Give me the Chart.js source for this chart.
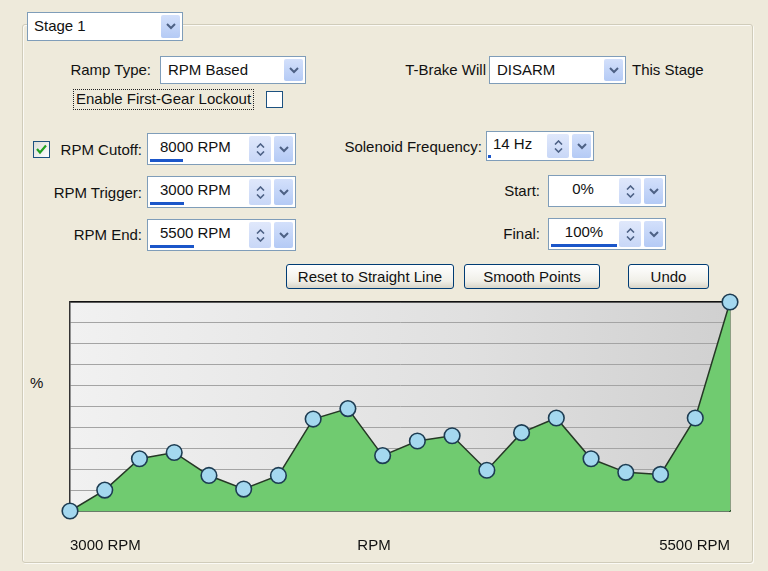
<!DOCTYPE html>
<html>
<head>
<meta charset="utf-8">
<script src="https://cdn.jsdelivr.net/npm/chart.js@4.4.4/dist/chart.umd.min.js"></script>
<style>
  html, body { margin: 0; padding: 0; }
  body {
    width: 768px; height: 571px; position: relative; overflow: hidden;
    background: #eeeadb; color: #111;
    font-family: Tahoma, 'Liberation Sans', Arial, sans-serif; font-size: 15px;
  }
  .group { position: absolute; left: 22px; top: 24px; width: 729px; height: 537px;
    border: 1px solid #d0ccba; border-radius: 3px; box-shadow: inset 1px 1px 0 #fbfaf5, 1px 1px 0 #fbfaf5; }
  .lbl { position: absolute; white-space: nowrap; line-height: 18px; }
  .box { position: absolute; background: #fff; border: 1px solid #7f9db9; box-sizing: border-box; }
  .box .txt { position: absolute; top: 4px; left: 7px; white-space: nowrap; line-height: 18px; }
  .arrow, .spin { position: absolute; top: 2px; bottom: 2px; border-radius: 2px;
    background: linear-gradient(#d3e0fb, #b4caf5); display: flex; align-items: center; justify-content: center; flex-direction: column; }
  .arrow { right: 2px; width: 19px; }
  .spin { width: 22px; gap: 3px; background: linear-gradient(#e0e8fb, #c8d7f7); }
  .bar { position: absolute; bottom: 2px; height: 3px; background: #1b56c9; }
  .chk { position: absolute; width: 15px; height: 15px; border: 1px solid #1c5180; background: linear-gradient(135deg, #dcdcd7, #fff); }
  .btn { position: absolute; height: 25px; box-sizing: border-box; border: 1px solid #003c74; border-radius: 3px;
    background: linear-gradient(#ffffff, #f0efe8 70%, #d9d5c8); text-align: center; line-height: 23px; white-space: nowrap; }
  #chartWrap { position: absolute; left: 0; top: 290px; width: 768px; height: 270px; }
</style>
</head>
<body>
<div class="group"></div>

<div class="box" style="left:27px;top:12px;width:156px;height:29px;border-color:#7f9db9">
  <span class="txt" style="left:6px;top:4px">Stage 1</span>
  <div class="arrow"><svg width="10" height="7"><polyline points="1,1 5,5 9,1" fill="none" stroke="#4d6185" stroke-width="2"/></svg></div>
</div>

<span class="lbl" style="right:617px;top:61px">Ramp Type:</span>
<div class="box" style="left:160px;top:56px;width:146px;height:28px">
  <span class="txt">RPM Based</span>
  <div class="arrow"><svg width="10" height="7"><polyline points="1,1 5,5 9,1" fill="none" stroke="#4d6185" stroke-width="2"/></svg></div>
</div>
<span class="lbl" style="left:73px;top:89px;height:19px;border:1px dotted #222;padding:0 2px">Enable First-Gear Lockout</span>
<div class="chk" style="left:266px;top:91px;background:#fff"></div>

<span class="lbl" style="right:282px;top:61px">T-Brake Will</span>
<div class="box" style="left:489px;top:56px;width:137px;height:28px">
  <span class="txt">DISARM</span>
  <div class="arrow"><svg width="10" height="7"><polyline points="1,1 5,5 9,1" fill="none" stroke="#4d6185" stroke-width="2"/></svg></div>
</div>
<span class="lbl" style="left:632px;top:61px">This Stage</span>

<div class="chk" style="left:33px;top:141px"><svg width="15" height="15" style="position:absolute;left:0;top:0"><polyline points="3,7 6,10.5 12,3.5" fill="none" stroke="#21a121" stroke-width="2.2"/></svg></div>
<span class="lbl" style="right:626px;top:141px">RPM Cutoff:</span>
<div class="box" style="left:147px;top:133px;width:149px;height:32px">
  <span class="txt" style="left:12px">8000 RPM</span>
  <div class="bar" style="left:2px;width:33px"></div>
  <div class="spin" style="right:24px"><svg width="9" height="5"><polyline points="1,4.5 4.5,1 8,4.5" fill="none" stroke="#4d6185" stroke-width="1.6"/></svg><svg width="9" height="5"><polyline points="1,0.5 4.5,4 8,0.5" fill="none" stroke="#4d6185" stroke-width="1.6"/></svg></div>
  <div class="arrow"><svg width="10" height="7"><polyline points="1,1 5,5 9,1" fill="none" stroke="#4d6185" stroke-width="2"/></svg></div>
</div>

<span class="lbl" style="right:286px;top:138px">Solenoid Frequency:</span>
<div class="box" style="left:486px;top:131px;width:108px;height:30px">
  <span class="txt" style="left:6px;top:3px">14 Hz</span>
  <div class="bar" style="left:1px;width:3px"></div>
  <div class="spin" style="right:24px"><svg width="9" height="5"><polyline points="1,4.5 4.5,1 8,4.5" fill="none" stroke="#4d6185" stroke-width="1.6"/></svg><svg width="9" height="5"><polyline points="1,0.5 4.5,4 8,0.5" fill="none" stroke="#4d6185" stroke-width="1.6"/></svg></div>
  <div class="arrow"><svg width="10" height="7"><polyline points="1,1 5,5 9,1" fill="none" stroke="#4d6185" stroke-width="2"/></svg></div>
</div>

<span class="lbl" style="right:626px;top:184px">RPM Trigger:</span>
<div class="box" style="left:147px;top:176px;width:149px;height:32px">
  <span class="txt" style="left:12px">3000 RPM</span>
  <div class="bar" style="left:2px;width:34px"></div>
  <div class="spin" style="right:24px"><svg width="9" height="5"><polyline points="1,4.5 4.5,1 8,4.5" fill="none" stroke="#4d6185" stroke-width="1.6"/></svg><svg width="9" height="5"><polyline points="1,0.5 4.5,4 8,0.5" fill="none" stroke="#4d6185" stroke-width="1.6"/></svg></div>
  <div class="arrow"><svg width="10" height="7"><polyline points="1,1 5,5 9,1" fill="none" stroke="#4d6185" stroke-width="2"/></svg></div>
</div>

<span class="lbl" style="right:228px;top:182px">Start:</span>
<div class="box" style="left:548px;top:175px;width:118px;height:32px">
  <span class="txt" style="left:0;width:68px;text-align:center">0%</span>
  <div class="spin" style="right:24px"><svg width="9" height="5"><polyline points="1,4.5 4.5,1 8,4.5" fill="none" stroke="#4d6185" stroke-width="1.6"/></svg><svg width="9" height="5"><polyline points="1,0.5 4.5,4 8,0.5" fill="none" stroke="#4d6185" stroke-width="1.6"/></svg></div>
  <div class="arrow"><svg width="10" height="7"><polyline points="1,1 5,5 9,1" fill="none" stroke="#4d6185" stroke-width="2"/></svg></div>
</div>

<span class="lbl" style="right:626px;top:226px">RPM End:</span>
<div class="box" style="left:147px;top:219px;width:149px;height:32px">
  <span class="txt" style="left:12px">5500 RPM</span>
  <div class="bar" style="left:2px;width:44px"></div>
  <div class="spin" style="right:24px"><svg width="9" height="5"><polyline points="1,4.5 4.5,1 8,4.5" fill="none" stroke="#4d6185" stroke-width="1.6"/></svg><svg width="9" height="5"><polyline points="1,0.5 4.5,4 8,0.5" fill="none" stroke="#4d6185" stroke-width="1.6"/></svg></div>
  <div class="arrow"><svg width="10" height="7"><polyline points="1,1 5,5 9,1" fill="none" stroke="#4d6185" stroke-width="2"/></svg></div>
</div>

<span class="lbl" style="right:228px;top:225px">Final:</span>
<div class="box" style="left:548px;top:218px;width:118px;height:32px">
  <span class="txt" style="left:0;width:70px;text-align:center">100%</span>
  <div class="bar" style="left:2px;width:66px"></div>
  <div class="spin" style="right:24px"><svg width="9" height="5"><polyline points="1,4.5 4.5,1 8,4.5" fill="none" stroke="#4d6185" stroke-width="1.6"/></svg><svg width="9" height="5"><polyline points="1,0.5 4.5,4 8,0.5" fill="none" stroke="#4d6185" stroke-width="1.6"/></svg></div>
  <div class="arrow"><svg width="10" height="7"><polyline points="1,1 5,5 9,1" fill="none" stroke="#4d6185" stroke-width="2"/></svg></div>
</div>

<div class="btn" style="left:286px;top:264px;width:168px">Reset to Straight Line</div>
<div class="btn" style="left:464px;top:264px;width:136px">Smooth Points</div>
<div class="btn" style="left:628px;top:264px;width:81px">Undo</div>

<span class="lbl" style="left:30px;top:374px">%</span>

<div id="chartWrap"><canvas id="ramp"></canvas></div>

<script>
// ramp curve: duty % at each of the 20 points between trigger and end RPM
const rampPct = [0, 10, 25, 28, 17, 10.5, 17, 44, 49, 26.5, 33.5, 36, 19.5, 37.5, 44.5, 25, 18.5, 17.5, 44.5, 100];
const rpmStartLabel = '3000 RPM';
const rpmEndLabel = '5500 RPM';
const xTitle = 'RPM';
const pctMin = 0, pctMax = 100, pctStep = 10;

const rpmLabels = rampPct.map((_, i) =>
  i === 0 ? rpmStartLabel : i === rampPct.length - 1 ? rpmEndLabel : '');

const FONT = { family: "Tahoma, 'Liberation Sans', Arial, sans-serif", size: 15 };

const plotBg = {
  id: 'plotBg',
  beforeDraw(chart) {
    const { ctx, chartArea: a } = chart;
    const g = ctx.createLinearGradient(a.left, 0, a.right, 0);
    g.addColorStop(0, '#f1f1f1');
    g.addColorStop(0.6, '#e0e0e0');
    g.addColorStop(1, '#d0d0d0');
    ctx.save();
    ctx.fillStyle = g;
    ctx.fillRect(a.left, a.top, a.right - a.left, a.bottom - a.top);
    ctx.restore();
  },
};

// the axis name sits on the same row as the end labels
const xTitleRow = {
  id: 'xTitleRow',
  afterDraw(chart) {
    const s = chart.scales.x;
    const { ctx } = chart;
    ctx.save();
    ctx.font = `${FONT.size}px ${FONT.family}`;
    ctx.fillStyle = '#111';
    ctx.textAlign = 'center';
    ctx.textBaseline = 'middle';
    ctx.fillText(xTitle, (s.left + s.right) / 2 - 26, s.bottom - FONT.size * 0.6);
    ctx.restore();
  },
};

new Chart(document.getElementById('ramp'), {
  type: 'line',
  data: {
    labels: rpmLabels,
    datasets: [{
      data: rampPct,
      borderColor: '#263826',
      borderWidth: 1.5,
      backgroundColor: '#70cb70',
      fill: 'origin',
      tension: 0,
      pointRadius: 7.8,
      pointBorderWidth: 1.6,
      pointBackgroundColor: '#a4d8ef',
      pointBorderColor: '#1d3c52',
      clip: false,
    }],
  },
  options: {
    responsive: true,
    maintainAspectRatio: false,
    animation: false,
    layout: { padding: { left: 70, right: 38, top: 12, bottom: 5 } },
    plugins: { legend: { display: false }, tooltip: { enabled: false } },
    scales: {
      x: {
        grid: { display: false, drawTicks: false },
        border: { display: true, color: '#2c552c', width: 1.5 },
        ticks: { autoSkip: false, maxRotation: 0, align: 'inner', padding: 26, color: '#111', font: FONT },
        afterFit: (s) => { s.height = 44; },
      },
      xTop: {
        type: 'category',
        position: 'top',
        grid: { display: false, drawTicks: false },
        border: { display: true, color: '#111', width: 1.5 },
        ticks: { display: false },
      },
      y: {
        min: pctMin, max: pctMax,
        grid: { color: '#a4a4a4', lineWidth: 1, drawTicks: false },
        border: { display: true, color: '#333', width: 1.5 },
        ticks: { display: false, stepSize: pctStep },
      },
      yRight: {
        position: 'right',
        min: pctMin, max: pctMax,
        grid: { display: false, drawTicks: false },
        border: { display: true, color: '#2c552c', width: 1.5 },
        ticks: { display: false },
      },
    },
  },
  plugins: [plotBg, xTitleRow],
});
</script>
</body>
</html>
